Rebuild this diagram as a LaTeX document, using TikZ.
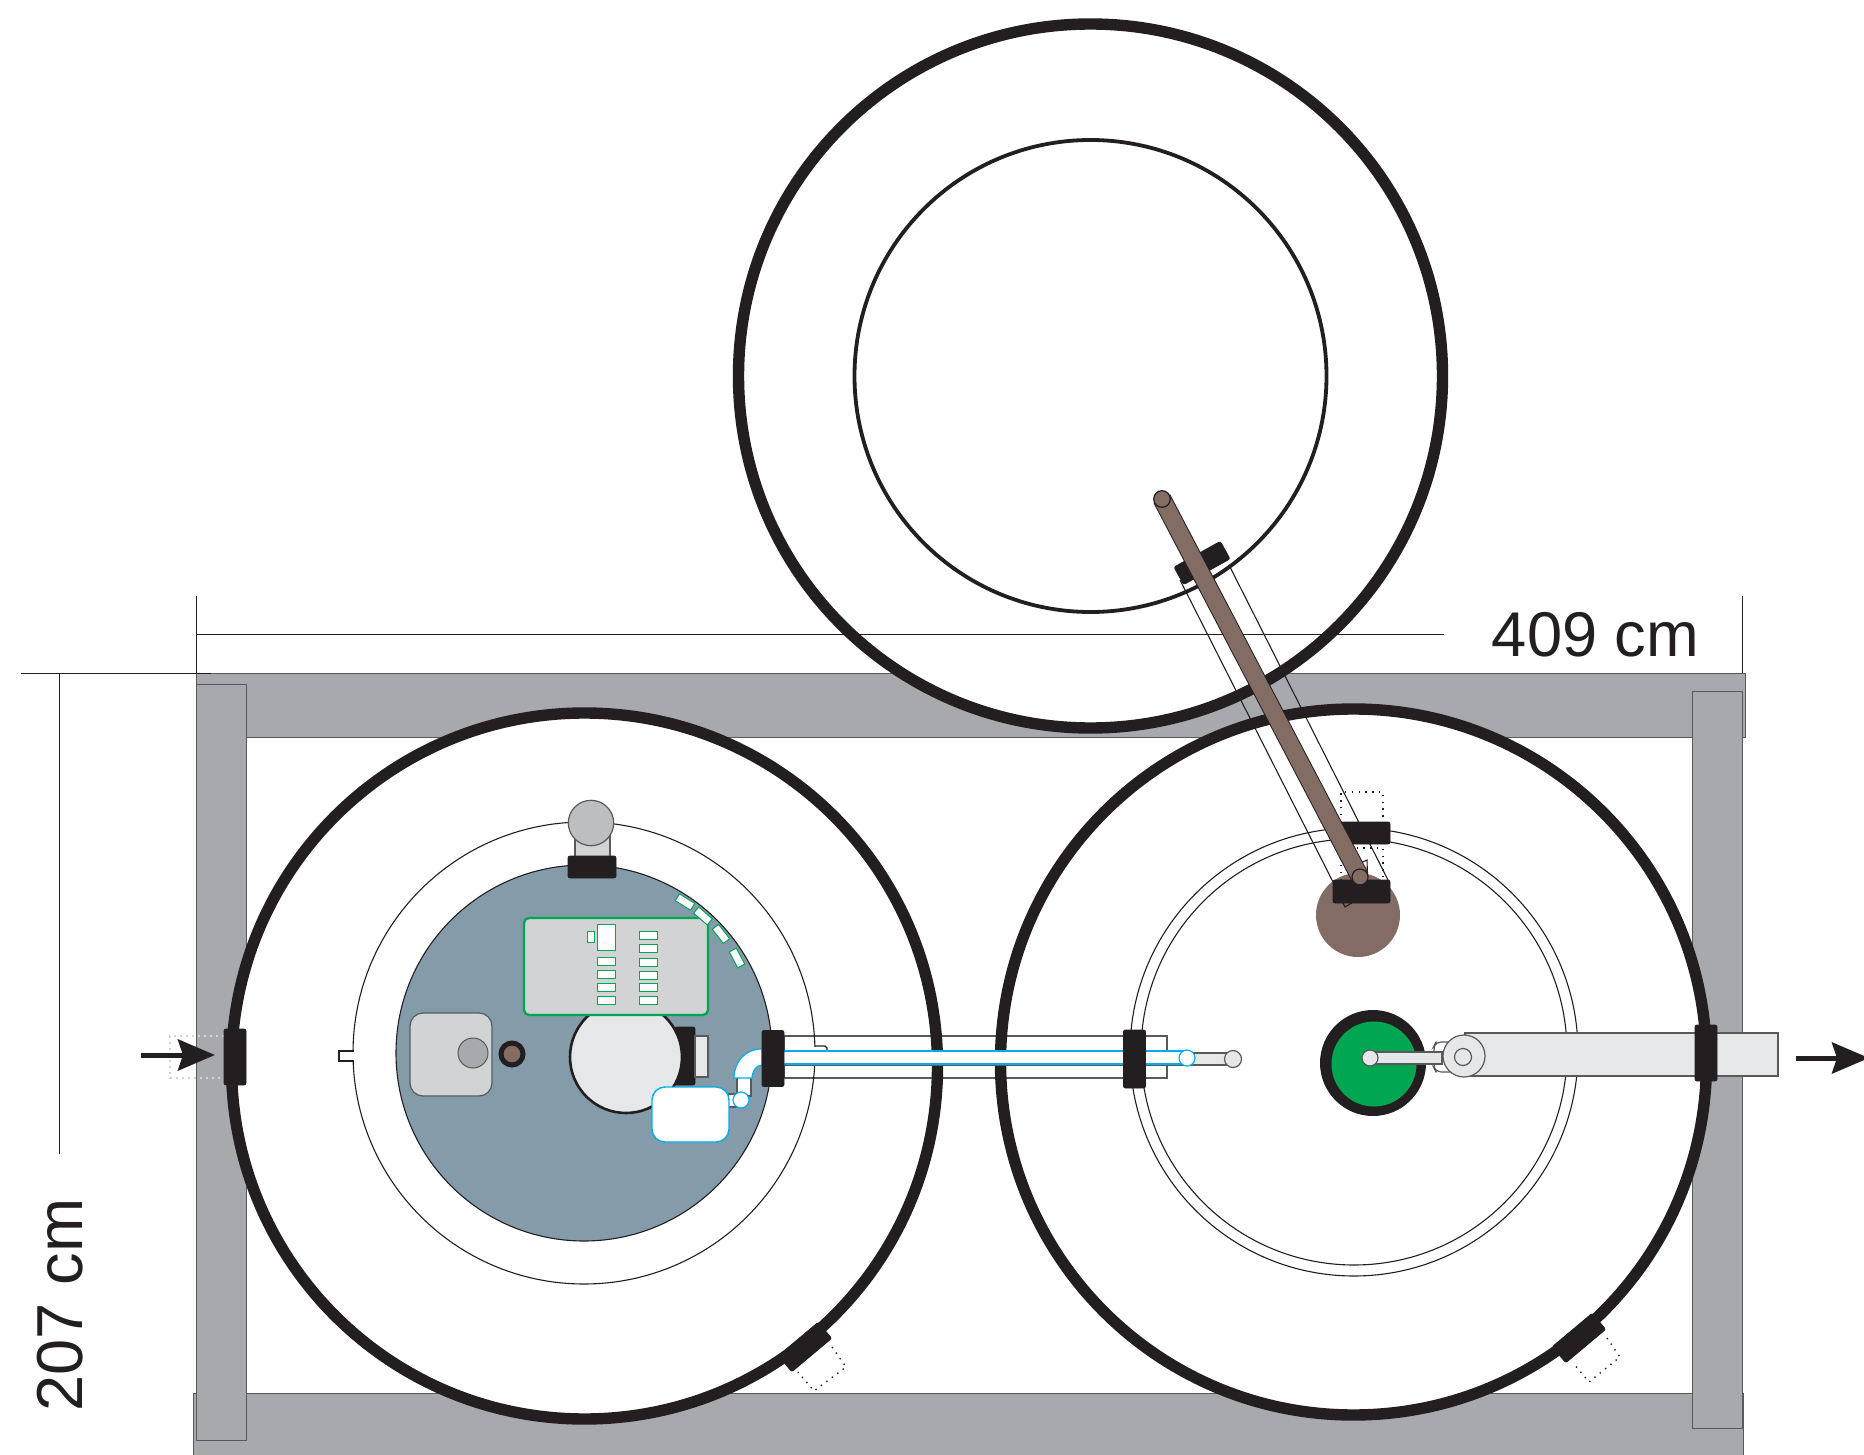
\documentclass[tikz,border=0pt]{standalone}
\usepackage{fontspec}
\setmainfont{Liberation Sans}
\usepackage{tikz}
\usetikzlibrary{arrows.meta}
\definecolor{ink}{RGB}{35,31,32}
\definecolor{edge}{RGB}{88,89,91}
\definecolor{steel}{RGB}{167,169,172}
\definecolor{pale}{RGB}{209,211,212}
\definecolor{silver}{RGB}{230,231,232}
\definecolor{knobgray}{RGB}{188,190,192}
\definecolor{slate}{RGB}{132,155,170}
\definecolor{umber}{RGB}{130,108,100}
\definecolor{leaf}{RGB}{0,166,81}
\definecolor{sky}{RGB}{0,174,239}

\begin{document}
\begin{tikzpicture}[x=0.5pt, y=-0.5pt]
    % Define styles
    \tikzstyle{beam} = [draw=edge, line width=0.5pt, fill=steel]
    \tikzstyle{ring} = [draw=ink, line width=5.7pt]
    \tikzstyle{thin} = [draw=ink, line width=0.55pt]
    \tikzstyle{tube} = [draw=edge, line width=0.6pt, fill=silver]
    \tikzstyle{pipe} = [draw=sky, line width=0.6pt, fill=white]
    \tikzstyle{clamp} = [rectangle, draw=ink, fill=ink, rounded corners=1pt, inner sep=0pt]
    \tikzstyle{switch} = [rectangle, draw=leaf, line width=0.4pt, fill=white, inner sep=0pt]
    \tikzstyle{dim} = [draw=ink, line width=0.5pt]
    \tikzstyle{spots} = [line width=0.7pt, dash pattern=on 0.7pt off 2.7pt]
    \tikzstyle{size_label} = [inner sep=0pt, text=ink]
    \tikzstyle{flow} = [draw=ink, line width=2.5pt, -{Stealth[length=18.5pt, width=15.5pt, inset=2.5pt]}]

    \useasboundingbox (0,0) rectangle (1864,1455);

    % Frame
    \path [beam] (196,673) rectangle (1745,737);
    \path [beam] (193,1393) rectangle (1743,1460);
    \path [beam] (196,684) rectangle (246,1440);
    \path [beam] (1692,691) rectangle (1742,1428);
    \draw [draw=pale, line width=0.6pt, dash pattern=on 1.2pt off 1.8pt] (224,1036) -- (170,1036) -- (170,1078) -- (224,1078);

    % White insides of the three rings
    \fill [white] (1090.5,376) circle [radius=352];
    \fill [white] (584.5,1066) circle [radius=353];
    \fill [white] (1353.5,1062) circle [radius=353];

    % Dimensions
    \coordinate (width_a) at (196,634);
    \coordinate (width_b) at (1444,634);
    \coordinate (tick_a) at (196,596);
    \coordinate (tick_a2) at (196,673);
    \coordinate (tick_b) at (1742,596);
    \coordinate (tick_b2) at (1742,673);
    \coordinate (height_a) at (21,673);
    \coordinate (height_b) at (211,673);
    \coordinate (height_c) at (59,673);
    \coordinate (height_d) at (59,1154);
    \draw [dim] (width_a) -- (width_b);
    \draw [dim] (tick_a) -- (tick_a2);
    \draw [dim] (tick_b) -- (tick_b2);
    \draw [dim] (height_a) -- (height_b);
    \draw [dim] (height_c) -- (height_d);
    \node [size_label, font=\fontsize{31.6}{32}\selectfont] (width_label) at (1595.5,635) {409 cm};
    \node [size_label, font=\fontsize{32.5}{33}\selectfont, rotate=90] (height_label) at (60,1305) {207 cm};

    % Inner rings
    \draw [ink, line width=1.9pt] (1090.5,376) circle [radius=236];
    \draw [thin] (1354,1052) circle [radius=224];
    \draw [thin] (1354,1052) circle [radius=213];

    % Tube between the tanks
    \draw [draw=edge, line width=0.6pt, fill=white] (784,1036) rectangle (1167,1078);

    % Left tank, inner ring with its two tabs
    \draw [thin] (584,1053) circle [radius=231];
    \fill [white] (339,1051) rectangle (354,1061);
    \draw [thin] (353.5,1051) -- (339,1051) -- (339,1061) -- (353.5,1061);
    \fill [white] (814,1046.5) rectangle (827,1061);
    \draw [thin] (814.5,1046) -- (825,1046) -- (827,1048) -- (827,1061);
    \draw [thin, fill=slate] (584,1053) circle [radius=188];

    % Knob on top
    \path [tube, fill=pale] (575,830) rectangle (610,860);
    \draw [draw=edge, line width=0.6pt, fill=knobgray] (591,823) circle [radius=22.7];
    \node [clamp, minimum width=24pt, minimum height=11pt] (knob_clamp) at (592,867) {};

    % Box and sensor
    \draw [draw=edge, line width=0.6pt, fill=pale, rounded corners=6.5pt] (410,1013) rectangle (492,1096);
    \draw [draw=edge, line width=0.5pt, fill=steel] (473,1053) circle [radius=15];
    \draw [ink, line width=2.5pt, fill=umber] (512,1054) circle [radius=11];

    % Large drum
    \node [clamp, minimum width=10pt, minimum height=29pt] (drum_clamp) at (685,1056) {};
    \path [tube] (695,1036) rectangle (708,1077);
    \draw [ink, line width=1.3pt, fill=silver] (626,1057) circle [radius=56];

    % Panel
    \draw [leaf, line width=1.2pt, fill=pale, rounded corners=2.5pt] (524,918) rectangle (708,1015);
    \foreach \y [count=\i] in {961,974,987,1000}
        \node [switch, minimum width=9pt, minimum height=4pt] (switch_a\i) at (606,\y) {};
    \foreach \y [count=\i] in {935,948,962,975,987,1000}
        \node [switch, minimum width=9pt, minimum height=4pt] (switch_b\i) at (648,\y) {};
    \node [switch, minimum width=9pt, minimum height=13pt] (switch_big) at (606,937) {};
    \node [switch, minimum width=3.6pt, minimum height=5.5pt] (switch_small) at (590.5,936.5) {};
    \foreach \x/\y/\r [count=\i] in {685/902/-32, 703/916/-41, 721/934/-52, 737/958/-62}
        \node [switch, line width=0.5pt, rotate=\r, minimum width=9pt, minimum height=4pt] (slot_\i) at (\x,\y) {};

    % Blue box and elbow
    \path [tube, fill=white] (727,1094) rectangle (737,1107);
    \path [tube, fill=white] (737,1076) rectangle (751,1096);
    \draw [sky, line width=0.7pt, fill=white, rounded corners=6.5pt] (652,1087) rectangle (729,1142);
    \path [pipe] (762,1049) .. controls (745,1049) and (734,1062) .. (734,1078) -- (752,1078)
        .. controls (752,1072) and (756,1065) .. (762,1065) -- cycle;
    \draw [pipe] (741,1100) circle [radius=8];

    % Outer rings
    \draw [ring] (1090.5,376) circle [radius=352];
    \draw [ring] (584.5,1066) circle [radius=353];
    \draw [ring] (1353.5,1062) circle [radius=353];

    % Blue line through the tube
    \draw [tube] (1187,1053) rectangle (1233,1065);
    \draw [tube] (1233,1059) circle [radius=8.5];
    \draw [draw=edge, line width=0.6pt] (784,1065) -- (1187,1065);
    \fill [white] (784,1051) rectangle (1187,1064);
    \draw [sky, line width=0.6pt] (784,1051) -- (1187,1051);
    \draw [sky, line width=0.6pt] (784,1064) -- (1187,1064);
    \draw [pipe] (1187,1058) circle [radius=8];

    % Green outlet
    \fill [ink] (1373,1063) circle [radius=53];
    \fill [leaf] (1374,1064) circle [radius=42.5];
    \draw [draw=edge, line width=0.6pt, fill=white, rounded corners=2.5pt] (1451,1042) -- (1436,1042) -- (1434,1046) -- (1434,1068) -- (1436,1072) -- (1451,1072);
    \path [tube] (1470,1052) rectangle (1488,1064);
    \path [tube] (1370,1052) rectangle (1442,1064);
    \draw [tube] (1370,1058) circle [radius=8];
    \path [tube] (1465,1033) rectangle (1778,1076);
    \draw [tube] (1464,1056) circle [radius=21];
    \draw [tube] (1463,1057) circle [radius=8.5];

    % Clamps on the rings
    \node [clamp, minimum width=11pt, minimum height=28pt] (clamp_in) at (235,1057) {};
    \node [clamp, minimum width=11pt, minimum height=28pt] (clamp_tube_a) at (773,1058.5) {};
    \node [clamp, minimum width=11pt, minimum height=29pt] (clamp_tube_b) at (1134.5,1059) {};
    \node [clamp, minimum width=11pt, minimum height=28pt] (clamp_out) at (1706,1053) {};

    % Clamps at the bottom with their dotted outlines
    \draw [ink, spots] (832,1347) -- (846,1367) -- (814,1391) -- (798,1372);
    \draw [ink, spots] (1607,1338) -- (1620,1357) -- (1589,1382) -- (1573,1363);
    \node [clamp, rotate=40, minimum width=26pt, minimum height=10.5pt] (clamp_low_a) at (805,1347) {};
    \node [clamp, rotate=40, minimum width=26pt, minimum height=10.5pt] (clamp_low_b) at (1579,1338) {};

    % Link between the tanks
    \fill [umber] (1358,915) circle [radius=42];
    \draw [ink, spots] (1341,822) -- (1341,792) -- (1383,792) -- (1383,822);
    \draw [ink, spots] (1341,880) -- (1341,848) -- (1383,848) -- (1383,880);
    \draw [thin] (1358,864) -- (1367,860) -- (1368,893) -- (1345,907) -- (1340,897);
    \node [clamp, minimum width=24.5pt, minimum height=11pt] (clamp_mid) at (1365.5,833) {};
    \draw [thin] (1180,580) -- (1333,882);
    \draw [thin] (1229,565) -- (1388,880);
    \node [clamp, minimum width=28.5pt, minimum height=11.5pt] (clamp_link) at (1361.5,891.5) {};
    \node [clamp, rotate=29, minimum width=26.5pt, minimum height=10pt] (clamp_top) at (1202,563) {};
    \coordinate (rod_top) at (1162,499);
    \coordinate (rod_end) at (1360,877);
    \draw [ink, line width=9.4pt] (rod_top) -- (rod_end);
    \draw [umber, line width=8.4pt] (rod_top) -- (rod_end);
    \draw [ink, line width=0.6pt, fill=umber] (rod_top) circle [radius=8.3];
    \draw [ink, line width=0.6pt, fill=umber] (rod_end) circle [radius=8];

    % Flow arrows
    \coordinate (inlet_tail) at (141,1055);
    \coordinate (inlet_tip) at (215,1055);
    \coordinate (outlet_tail) at (1796,1058);
    \coordinate (outlet_tip) at (1869,1058);
    \path [flow] (inlet_tail) -- (inlet_tip);
    \path [flow] (outlet_tail) -- (outlet_tip);
\end{tikzpicture}
\end{document}
